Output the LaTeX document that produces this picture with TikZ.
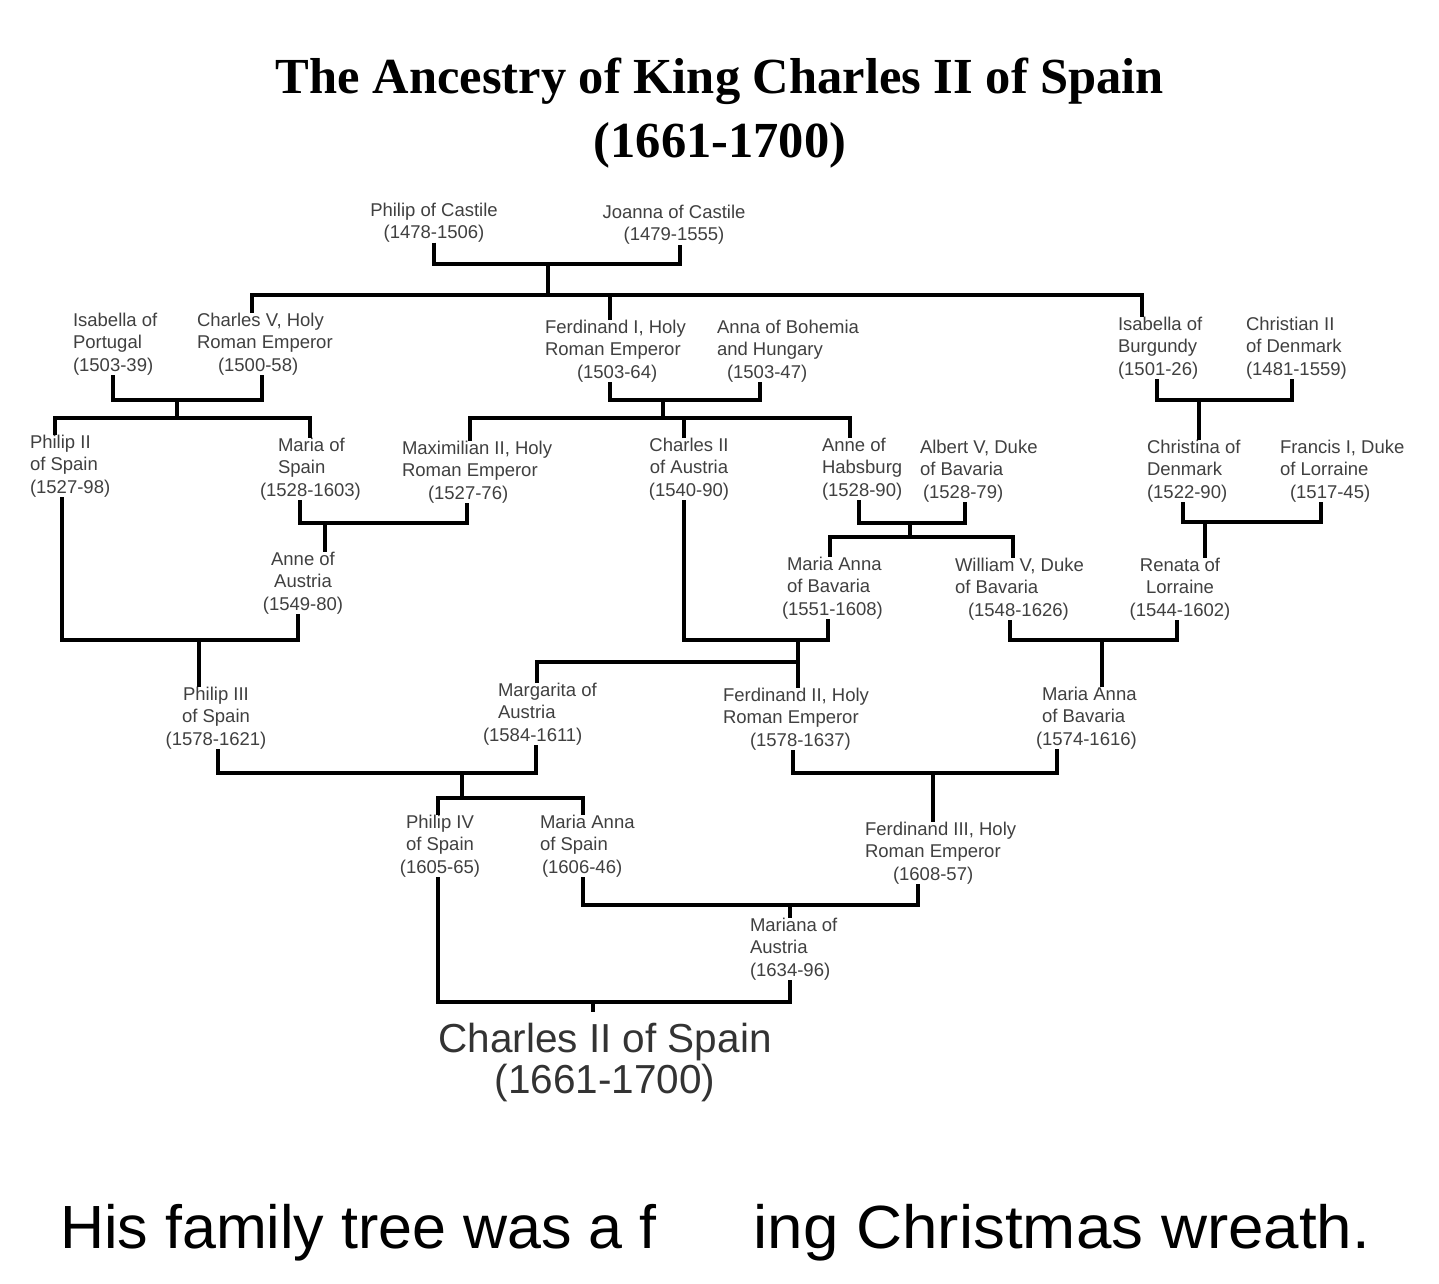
\documentclass[tikz,border=0pt]{standalone}
\usepackage{graphicx}
\usepackage{fontspec}
\setmainfont{Liberation Sans}
\newfontfamily\titlefont{Liberation Serif}
\begin{document}
\begin{tikzpicture}[x=1pt,y=-1pt,
  person/.style={font=\fontsize{18.5}{22.5}\selectfont, text=black!75, inner sep=0pt, outer sep=0pt, anchor=north, align=center, execute at begin node={\rule{0pt}{17pt}}},
  lperson/.style={person, anchor=north west, align=left},
  conn/.style={line width=3.6pt, black}]
\fill[white] (0,0) rectangle (1439,1283);
\useasboundingbox (0,0) rectangle (1439,1283);

% title
\node[font=\titlefont\bfseries\fontsize{50.5}{64}\selectfont, align=center, anchor=north, inner sep=0pt] (title) at (720,58) {\rule{0pt}{35pt}The Ancestry of King Charles II of Spain\\(1661-1700)};

% people
\node[person] (pcast) at (434,203) {Philip of Castile\\(1478-1506)};
\node[person] (jcast) at (674,205) {Joanna of Castile\\(1479-1555)};
\node[lperson] (isport) at (73,313) {Isabella of\\Portugal\\(1503-39)};
\node[lperson] (charlesV) at (197,313) {Charles V, Holy\\Roman Emperor\\\hspace*{21pt}(1500-58)};
\node[lperson] (ferdI) at (545,320) {Ferdinand I, Holy\\Roman Emperor\\\hspace*{32pt}(1503-64)};
\node[lperson] (anna) at (717,320) {Anna of Bohemia\\and Hungary\\\hspace*{10pt}(1503-47)};
\node[lperson] (isburg) at (1118,317) {Isabella of\\Burgundy\\(1501-26)};
\node[lperson] (christian) at (1246,317) {Christian II\\of Denmark\\(1481-1559)};
\node[lperson] (philipII) at (30,435) {Philip II\\of Spain\\(1527-98)};
\node[lperson] (mariaS) at (278,438) {Maria of\\Spain\\\hspace*{-18pt}(1528-1603)};
\node[lperson] (maxII) at (402,441) {Maximilian II, Holy\\Roman Emperor\\\hspace*{26pt}(1527-76)};
\node[person] (charlesA) at (689,438) {Charles II\\of Austria\\(1540-90)};
\node[lperson] (anneH) at (822,438) {Anne of\\Habsburg\\(1528-90)};
\node[lperson] (albert) at (920,440) {Albert V, Duke\\of Bavaria\\\hspace*{3pt}(1528-79)};
\node[lperson] (christina) at (1147,440) {Christina of\\Denmark\\(1522-90)};
\node[lperson] (francis) at (1280,440) {Francis I, Duke\\of Lorraine\\\hspace*{10pt}(1517-45)};
\node[person] (anneA) at (303,552) {Anne of\\Austria\\(1549-80)};
\node[lperson] (mariaB1) at (787,557) {Maria Anna\\of Bavaria\\\hspace*{-5pt}(1551-1608)};
\node[lperson] (william) at (955,558) {William V, Duke\\of Bavaria\\\hspace*{13pt}(1548-1626)};
\node[person] (renata) at (1180,558) {Renata of\\Lorraine\\(1544-1602)};
\node[person] (philipIII) at (216,687) {Philip III\\of Spain\\(1578-1621)};
\node[lperson] (margarita) at (498,683) {Margarita of\\Austria\\\hspace*{-15pt}(1584-1611)};
\node[lperson] (ferdII) at (723,688) {Ferdinand II, Holy\\Roman Emperor\\\hspace*{27pt}(1578-1637)};
\node[lperson] (mariaB2) at (1042,687) {Maria Anna\\of Bavaria\\\hspace*{-6pt}(1574-1616)};
\node[person] (philipIV) at (440,815) {Philip IV\\of Spain\\(1605-65)};
\node[lperson] (mariaSp) at (540,815) {Maria Anna\\of Spain\\\hspace*{2pt}(1606-46)};
\node[lperson] (ferdIII) at (865,822) {Ferdinand III, Holy\\Roman Emperor\\\hspace*{28pt}(1608-57)};
\node[lperson] (mariana) at (750,918) {Mariana of\\Austria\\(1634-96)};
\node[font=\fontsize{40.5}{41.5}\selectfont, text=black!80, align=center, anchor=north, inner sep=0pt] (charlesII) at (605,1012) {\rule{0pt}{40pt}Charles II of Spain\\(1661-1700)};

% caption
\node[font=\fontsize{61}{70}\selectfont, anchor=base west, inner sep=0pt] (caption) at (60,1248) {His family tree was a f\hspace{97pt}\scalebox{1.045}[1]{ing Christmas wreath.}};

% junctions
\coordinate (j1) at (548,264);  \coordinate (j1b) at (548,295);
\coordinate (j2) at (177,400);  \coordinate (j2b) at (177,418);
\coordinate (j3) at (663,400);  \coordinate (j3b) at (663,418);
\coordinate (j4) at (1199,400);
\coordinate (j5) at (325,523);
\coordinate (j6) at (910,523);  \coordinate (j6b) at (910,537);
\coordinate (j7) at (1205,522);
\coordinate (j8) at (199,640);
\coordinate (j9) at (798,640);  \coordinate (j9b) at (798,662);
\coordinate (j10) at (1102,640);
\coordinate (j11) at (462,773); \coordinate (j11b) at (462,798);
\coordinate (j12) at (933,773);
\coordinate (j13) at (790,905);
\coordinate (j14) at (593,1002);

% connectors
\draw[conn] (pcast.south -| 434,0) |- (j1) -| (jcast.south -| 680,0);
\draw[conn] (j1) -- (j1b);
\draw[conn] (charlesV.north -| 252,0) |- (j1b) -| (isburg.north -| 1142,0);
\draw[conn] (ferdI.north -| 610,0) -- (j1b -| 610,0);

\draw[conn] (isport.south -| 113,0) |- (j2) -| (charlesV.south -| 262,0);
\draw[conn] (j2) -- (j2b);
\draw[conn] (philipII.north -| 55,0) |- (j2b) -| (mariaS.north -| 310,0);

\draw[conn] (ferdI.south -| 610,0) |- (j3) -| (anna.south -| 760,0);
\draw[conn] (j3) -- (j3b);
\draw[conn] (maxII.north -| 470,0) |- (j3b) -| (anneH.north -| 850,0);
\draw[conn] (charlesA.north -| 684,0) -- (j3b -| 684,0);

\draw[conn] (isburg.south -| 1157,0) |- (j4) -| (christian.south -| 1292,0);
\draw[conn] (j4) -- (christina.north -| 1199,0);

\draw[conn] (mariaS.south -| 300,0) |- (j5) -| (maxII.south -| 467,0);
\draw[conn] (j5) -- (anneA.north -| 325,0);

\draw[conn] (anneH.south -| 859,0) |- (j6) -| (albert.south -| 965,0);
\draw[conn] (j6) -- (j6b);
\draw[conn] (mariaB1.north -| 830,0) |- (j6b) -| (william.north -| 1013,0);

\draw[conn] (christina.south -| 1183,0) |- (j7) -| (francis.south -| 1321,0);
\draw[conn] (j7) -- (renata.north -| 1205,0);

\draw[conn] (philipII.south -| 62,0) |- (j8) -| (anneA.south -| 298,0);
\draw[conn] (j8) -- (philipIII.north -| 199,0);

\draw[conn] (charlesA.south -| 684,0) |- (j9) -| (mariaB1.south -| 828,0);
\draw[conn] (j9) -- (ferdII.north -| 798,0);
\draw[conn] (margarita.north -| 537,0) |- (j9b);

\draw[conn] (william.south -| 1010,0) |- (j10) -| (renata.south -| 1177,0);
\draw[conn] (j10) -- (mariaB2.north -| 1102,0);

\draw[conn] (philipIII.south -| 218,0) |- (j11) -| (margarita.south -| 536,0);
\draw[conn] (j11) -- (j11b);
\draw[conn] (philipIV.north -| 438,0) |- (j11b) -| (mariaSp.north -| 583,0);

\draw[conn] (ferdII.south -| 793,0) |- (j12) -| (mariaB2.south -| 1057,0);
\draw[conn] (j12) -- (ferdIII.north -| 933,0);

\draw[conn] (mariaSp.south -| 583,0) |- (j13) -| (ferdIII.south -| 918,0);
\draw[conn] (j13) -- (mariana.north -| 790,0);

\draw[conn] (philipIV.south -| 438,0) |- (j14) -| (mariana.south -| 790,0);
\draw[conn] (j14) -- (charlesII.north -| 593,0);
\end{tikzpicture}
\end{document}
